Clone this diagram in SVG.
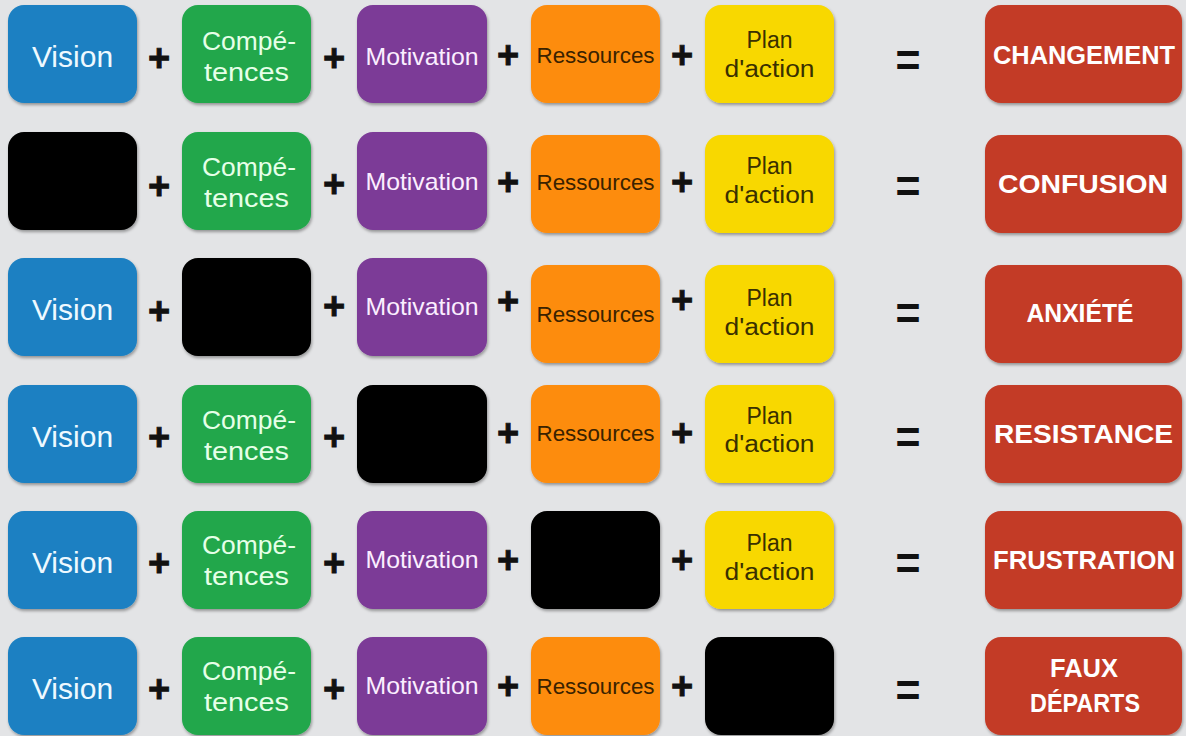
<svg xmlns="http://www.w3.org/2000/svg" width="1186" height="736" viewBox="0 0 1186 736">
<defs>
<filter id="sh" x="-10%" y="-10%" width="125%" height="130%">
<feDropShadow dx="1" dy="2" stdDeviation="1.6" flood-color="#000" flood-opacity="0.35"/>
</filter>
</defs>
<style>
.b{filter:url(#sh)}
.bl{fill:#1c80c2}
.gr{fill:#21a74b}
.pu{fill:#7c3b97}
.or{fill:#fd8c0e}
.ye{fill:#f8d800}
.rd{fill:#c33b28}
.bk{fill:#040404}
text{font-family:"Liberation Sans",Arial,sans-serif;text-anchor:middle;dominant-baseline:central}
.tv{fill:#eef9ff;font-size:30px}
.tc{fill:#e6ffe8;font-size:25px}
.tm{fill:#fbeeff;font-size:24px}
.tr{fill:#3a2200;font-size:22px}
.tp{fill:#3a3000;font-size:23px}
.tx{fill:#ffffff;font-size:25px;font-weight:bold}
.op{fill:#111;stroke:#111;stroke-width:0.8;font-size:38px;font-weight:bold}
.eq{fill:#111;font-size:46px;font-weight:bold}
</style>
<rect width="1186" height="736" fill="#e3e4e6"/>

<!-- Row 1 -->
<g id="r1-vision"><rect class="b bl" x="8" y="5" width="129" height="98" rx="16"/><text class="tv" x="72.5" y="56">Vision</text></g>
<g id="r1-competences"><rect class="b gr" x="182" y="5" width="129" height="98" rx="16"/><text class="tc" x="249" y="41" textLength="94" lengthAdjust="spacingAndGlyphs">Compé-</text><text class="tc" x="246.5" y="72" textLength="85" lengthAdjust="spacingAndGlyphs">tences</text></g>
<g id="r1-motivation"><rect class="b pu" x="357" y="5" width="130" height="98" rx="16"/><text class="tm" x="422" y="56" textLength="113" lengthAdjust="spacingAndGlyphs">Motivation</text></g>
<g id="r1-ressources"><rect class="b or" x="531" y="5" width="129" height="98" rx="16"/><text class="tr" x="595.5" y="55" textLength="118" lengthAdjust="spacingAndGlyphs">Ressources</text></g>
<g id="r1-plan"><rect class="b ye" x="705" y="5" width="129" height="98" rx="16"/><text class="tp" x="769.5" y="40">Plan</text><text class="tp" x="769.5" y="69" textLength="90" lengthAdjust="spacingAndGlyphs">d'action</text></g>
<g id="r1-result"><rect class="b rd" x="985" y="5" width="197" height="98" rx="16"/><text class="tx" x="1084" y="55" textLength="182" lengthAdjust="spacingAndGlyphs">CHANGEMENT</text></g>

<!-- Row 2 -->
<g id="r2-vision"><rect class="b bk" x="8" y="132" width="129" height="98" rx="16"/></g>
<g id="r2-competences"><rect class="b gr" x="182" y="132" width="129" height="98" rx="16"/><text class="tc" x="249" y="167" textLength="94" lengthAdjust="spacingAndGlyphs">Compé-</text><text class="tc" x="246.5" y="198" textLength="85" lengthAdjust="spacingAndGlyphs">tences</text></g>
<g id="r2-motivation"><rect class="b pu" x="357" y="132" width="130" height="98" rx="16"/><text class="tm" x="422" y="181" textLength="113" lengthAdjust="spacingAndGlyphs">Motivation</text></g>
<g id="r2-ressources"><rect class="b or" x="531" y="135" width="129" height="98" rx="16"/><text class="tr" x="595.5" y="182" textLength="118" lengthAdjust="spacingAndGlyphs">Ressources</text></g>
<g id="r2-plan"><rect class="b ye" x="705" y="135" width="129" height="98" rx="16"/><text class="tp" x="769.5" y="166">Plan</text><text class="tp" x="769.5" y="195" textLength="90" lengthAdjust="spacingAndGlyphs">d'action</text></g>
<g id="r2-result"><rect class="b rd" x="985" y="135" width="197" height="98" rx="16"/><text class="tx" x="1083" y="184" textLength="170" lengthAdjust="spacingAndGlyphs">CONFUSION</text></g>

<!-- Row 3 -->
<g id="r3-vision"><rect class="b bl" x="8" y="258" width="129" height="98" rx="16"/><text class="tv" x="72.5" y="309">Vision</text></g>
<g id="r3-competences"><rect class="b bk" x="182" y="258" width="129" height="98" rx="16"/></g>
<g id="r3-motivation"><rect class="b pu" x="357" y="258" width="130" height="98" rx="16"/><text class="tm" x="422" y="306" textLength="113" lengthAdjust="spacingAndGlyphs">Motivation</text></g>
<g id="r3-ressources"><rect class="b or" x="531" y="265" width="129" height="98" rx="16"/><text class="tr" x="595.5" y="314" textLength="118" lengthAdjust="spacingAndGlyphs">Ressources</text></g>
<g id="r3-plan"><rect class="b ye" x="705" y="265" width="129" height="98" rx="16"/><text class="tp" x="769.5" y="298">Plan</text><text class="tp" x="769.5" y="327" textLength="90" lengthAdjust="spacingAndGlyphs">d'action</text></g>
<g id="r3-result"><rect class="b rd" x="985" y="265" width="197" height="98" rx="16"/><text class="tx" x="1080" y="313" textLength="107" lengthAdjust="spacingAndGlyphs">ANXIÉTÉ</text></g>

<!-- Row 4 -->
<g id="r4-vision"><rect class="b bl" x="8" y="385" width="129" height="98" rx="16"/><text class="tv" x="72.5" y="436">Vision</text></g>
<g id="r4-competences"><rect class="b gr" x="182" y="385" width="129" height="98" rx="16"/><text class="tc" x="249" y="420" textLength="94" lengthAdjust="spacingAndGlyphs">Compé-</text><text class="tc" x="246.5" y="451" textLength="85" lengthAdjust="spacingAndGlyphs">tences</text></g>
<g id="r4-motivation"><rect class="b bk" x="357" y="385" width="130" height="98" rx="16"/></g>
<g id="r4-ressources"><rect class="b or" x="531" y="385" width="129" height="98" rx="16"/><text class="tr" x="595.5" y="433" textLength="118" lengthAdjust="spacingAndGlyphs">Ressources</text></g>
<g id="r4-plan"><rect class="b ye" x="705" y="385" width="129" height="98" rx="16"/><text class="tp" x="769.5" y="416">Plan</text><text class="tp" x="769.5" y="444" textLength="90" lengthAdjust="spacingAndGlyphs">d'action</text></g>
<g id="r4-result"><rect class="b rd" x="985" y="385" width="197" height="98" rx="16"/><text class="tx" x="1083.5" y="434" textLength="179" lengthAdjust="spacingAndGlyphs">RESISTANCE</text></g>

<!-- Row 5 -->
<g id="r5-vision"><rect class="b bl" x="8" y="511" width="129" height="98" rx="16"/><text class="tv" x="72.5" y="562">Vision</text></g>
<g id="r5-competences"><rect class="b gr" x="182" y="511" width="129" height="98" rx="16"/><text class="tc" x="249" y="545" textLength="94" lengthAdjust="spacingAndGlyphs">Compé-</text><text class="tc" x="246.5" y="576" textLength="85" lengthAdjust="spacingAndGlyphs">tences</text></g>
<g id="r5-motivation"><rect class="b pu" x="357" y="511" width="130" height="98" rx="16"/><text class="tm" x="422" y="559" textLength="113" lengthAdjust="spacingAndGlyphs">Motivation</text></g>
<g id="r5-ressources"><rect class="b bk" x="531" y="511" width="129" height="98" rx="16"/></g>
<g id="r5-plan"><rect class="b ye" x="705" y="511" width="129" height="98" rx="16"/><text class="tp" x="769.5" y="543">Plan</text><text class="tp" x="769.5" y="572" textLength="90" lengthAdjust="spacingAndGlyphs">d'action</text></g>
<g id="r5-result"><rect class="b rd" x="985" y="511" width="197" height="98" rx="16"/><text class="tx" x="1084" y="560" textLength="182" lengthAdjust="spacingAndGlyphs">FRUSTRATION</text></g>

<!-- Row 6 -->
<g id="r6-vision"><rect class="b bl" x="8" y="637" width="129" height="98" rx="16"/><text class="tv" x="72.5" y="688">Vision</text></g>
<g id="r6-competences"><rect class="b gr" x="182" y="637" width="129" height="98" rx="16"/><text class="tc" x="249" y="671" textLength="94" lengthAdjust="spacingAndGlyphs">Compé-</text><text class="tc" x="246.5" y="702" textLength="85" lengthAdjust="spacingAndGlyphs">tences</text></g>
<g id="r6-motivation"><rect class="b pu" x="357" y="637" width="130" height="98" rx="16"/><text class="tm" x="422" y="685" textLength="113" lengthAdjust="spacingAndGlyphs">Motivation</text></g>
<g id="r6-ressources"><rect class="b or" x="531" y="637" width="129" height="98" rx="16"/><text class="tr" x="595.5" y="686" textLength="118" lengthAdjust="spacingAndGlyphs">Ressources</text></g>
<g id="r6-plan"><rect class="b bk" x="705" y="637" width="129" height="98" rx="16"/></g>
<g id="r6-result"><rect class="b rd" x="985" y="637" width="197" height="98" rx="16"/><text class="tx" x="1084" y="668" textLength="68" lengthAdjust="spacingAndGlyphs">FAUX</text><text class="tx" x="1085" y="703" textLength="110" lengthAdjust="spacingAndGlyphs">DÉPARTS</text></g>

<!-- Operators -->
<g id="operators">
<text class="op" x="159" y="58">+</text><text class="op" x="334" y="58">+</text><text class="op" x="508" y="55">+</text><text class="op" x="682" y="55">+</text><text class="eq" x="908" y="60" textLength="25" lengthAdjust="spacingAndGlyphs">=</text>
<text class="op" x="159" y="186">+</text><text class="op" x="334" y="184">+</text><text class="op" x="508" y="182">+</text><text class="op" x="682" y="182">+</text><text class="eq" x="908" y="186" textLength="25" lengthAdjust="spacingAndGlyphs">=</text>
<text class="op" x="159" y="311">+</text><text class="op" x="334" y="306">+</text><text class="op" x="508" y="301">+</text><text class="op" x="682" y="300">+</text><text class="eq" x="908" y="313" textLength="25" lengthAdjust="spacingAndGlyphs">=</text>
<text class="op" x="159" y="437">+</text><text class="op" x="334" y="437">+</text><text class="op" x="508" y="433">+</text><text class="op" x="682" y="433">+</text><text class="eq" x="908" y="437" textLength="25" lengthAdjust="spacingAndGlyphs">=</text>
<text class="op" x="159" y="563">+</text><text class="op" x="334" y="563">+</text><text class="op" x="508" y="560">+</text><text class="op" x="682" y="560">+</text><text class="eq" x="908" y="563" textLength="25" lengthAdjust="spacingAndGlyphs">=</text>
<text class="op" x="159" y="689">+</text><text class="op" x="334" y="689">+</text><text class="op" x="508" y="686">+</text><text class="op" x="682" y="686">+</text><text class="eq" x="908" y="690" textLength="25" lengthAdjust="spacingAndGlyphs">=</text>
</g>
</svg>
